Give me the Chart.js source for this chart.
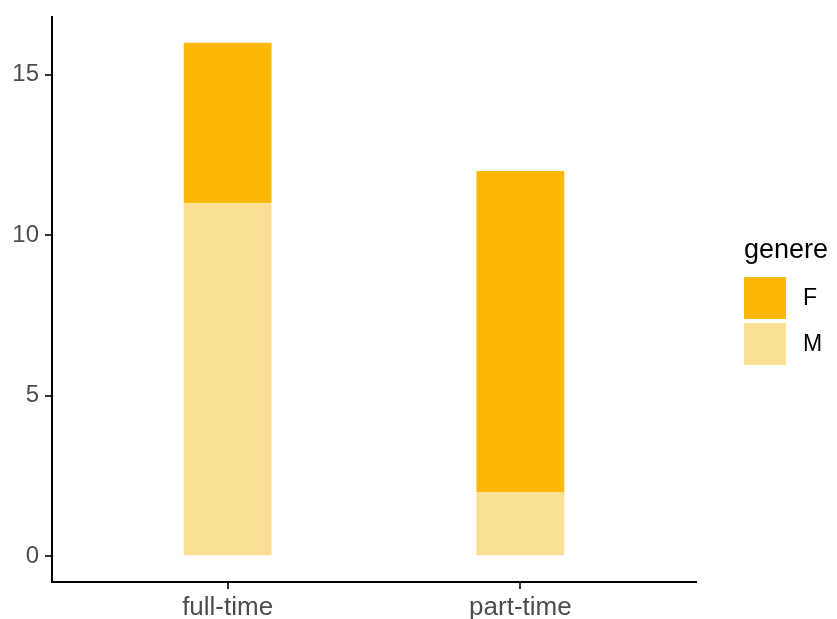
<!DOCTYPE html>
<html>
<head>
<meta charset="utf-8">
<script src="https://cdn.jsdelivr.net/npm/chart.js@4/dist/chart.umd.min.js"></script>
<style>
    html, body { margin: 0; padding: 0; background: #fff; }
    #wrap { width: 837px; height: 619px; position: relative; }
</style>
</head>
<body>
<div id="wrap"><canvas id="genereChart"></canvas></div>
<script>
// data
const categories = ["full-time", "part-time"];
const categoryPos = [1, 2];
const valuesM = [11, 2];
const valuesF = [5, 10];
const yTicks = [0, 5, 10, 15];
const legendTitle = "genere";

const colorF = "#FBB806";
const colorM = "#FBDF94";
const fontFamily = "'Liberation Sans', Arial, sans-serif";

function toPoints(values) {
    return values.map((v, i) => ({ x: categoryPos[i], y: v }));
}

// ggplot style legend on the right
const sideLegend = {
    id: "sideLegend",
    afterDraw(chart) {
        const ctx = chart.ctx;
        ctx.save();
        ctx.fillStyle = "#000";
        ctx.font = "27px " + fontFamily;
        ctx.textBaseline = "alphabetic";
        ctx.textAlign = "left";
        ctx.fillText(legendTitle, 744, 258);

        // F on top, then M (reverse of stacking order)
        const items = chart.data.datasets.slice().reverse();
        items.forEach((ds, i) => {
            const top = 277 + i * 46;
            ctx.fillStyle = ds.backgroundColor;
            ctx.fillRect(744, top, 42, 42);
            ctx.fillStyle = "#000";
            ctx.font = "23px " + fontFamily;
            ctx.textBaseline = "middle";
            ctx.fillText(ds.label, 803, top + 22);
        });
        ctx.restore();
    }
};

const ctx = document.getElementById("genereChart").getContext("2d");
new Chart(ctx, {
    type: "bar",
    data: {
        datasets: [
            {
                label: "M",
                data: toPoints(valuesM),
                backgroundColor: colorM,
                barPercentage: 0.3,
                categoryPercentage: 1
            },
            {
                label: "F",
                data: toPoints(valuesF),
                backgroundColor: colorF,
                barPercentage: 0.3,
                categoryPercentage: 1
            }
        ]
    },
    options: {
        responsive: true,
        maintainAspectRatio: false,
        animation: false,
        layout: {
            padding: { top: 17, right: 141, bottom: 0, left: 0 }
        },
        plugins: {
            legend: { display: false },
            tooltip: { enabled: false }
        },
        scales: {
            x: {
                type: "linear",
                stacked: true,
                offset: false,
                min: 0.4,
                max: 2.6,
                afterBuildTicks: scale => {
                    scale.ticks = categoryPos.map(v => ({ value: v }));
                },
                afterFit: scale => {
                    scale.height = 37;
                    scale.paddingLeft = 0;
                    scale.paddingRight = 0;
                },
                grid: {
                    offset: false,
                    drawOnChartArea: false,
                    drawTicks: true,
                    tickLength: 7,
                    color: "#333333",
                    lineWidth: 2
                },
                border: { display: true, color: "#000", width: 2 },
                ticks: {
                    padding: 3,
                    color: "#4D4D4D",
                    font: { family: fontFamily, size: 26 },
                    maxRotation: 0,
                    autoSkip: false,
                    callback: value => {
                        const i = categoryPos.indexOf(value);
                        return i >= 0 ? categories[i] : "";
                    }
                }
            },
            y: {
                stacked: true,
                min: -0.8,
                max: 16.8,
                afterBuildTicks: scale => {
                    scale.ticks = yTicks.map(v => ({ value: v }));
                },
                afterFit: scale => {
                    scale.width = 52;
                    scale.paddingTop = 0;
                    scale.paddingBottom = 0;
                },
                grid: {
                    drawOnChartArea: false,
                    drawTicks: true,
                    tickLength: 7,
                    color: "#333333",
                    lineWidth: 2
                },
                border: { display: true, color: "#000", width: 2 },
                ticks: {
                    padding: 6,
                    color: "#4D4D4D",
                    font: { family: fontFamily, size: 24 }
                }
            }
        }
    },
    plugins: [sideLegend]
});
</script>
</body>
</html>
